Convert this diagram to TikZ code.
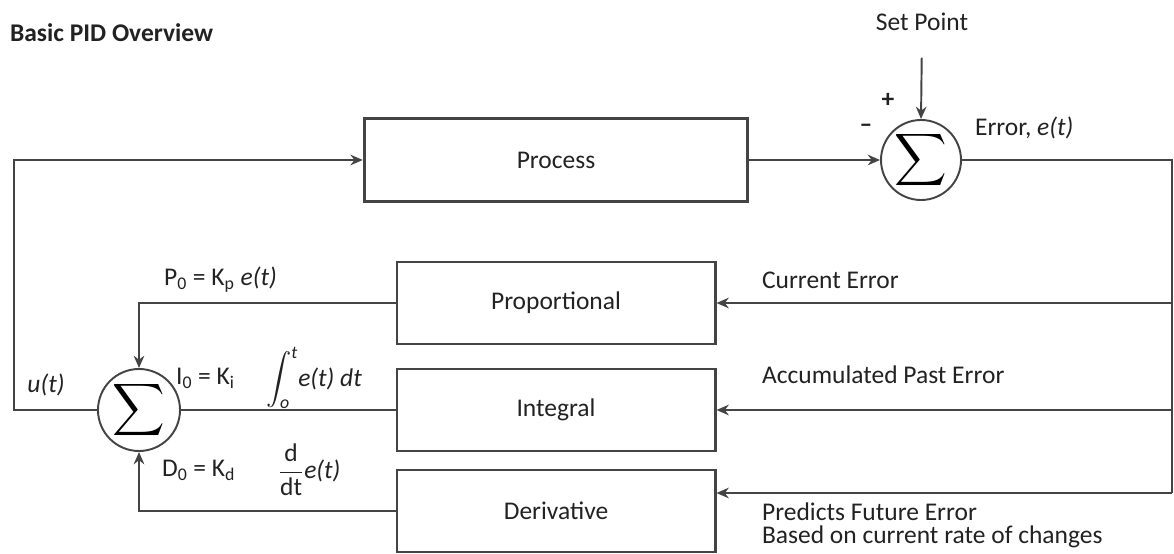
\documentclass[tikz,border=0pt]{standalone}
\usepackage{amsmath}
\usepackage{fontspec}
\setmainfont{Carlito}
\usetikzlibrary{arrows.meta, positioning, calc}
\definecolor{lineg}{HTML}{444444}
\definecolor{txtg}{HTML}{222222}

\tikzset{
  block/.style={draw=lineg, line width=1.7pt, minimum width=6.36cm, minimum height=1.64cm, font=\fontsize{14.5}{17}\selectfont, text=txtg},
  sumnode/.style={circle, draw=lineg, line width=1.1pt, minimum size=1.6cm, inner sep=0pt, font=\fontsize{21}{24}\selectfont},
  lbl/.style={font=\fontsize{14.5}{17}\selectfont, text=txtg, inner sep=1pt},
  wire/.style={draw=lineg, line width=1.1pt},
}

\begin{document}
\begin{tikzpicture}[x=0.2mm, y=-0.2mm, >={Stealth[length=7pt, width=6pt]}]
    \useasboundingbox (0,0) rectangle (1174,554);

    % Title
    \node[lbl, anchor=west, font=\fontsize{14.5}{17}\selectfont\bfseries] (title) at (8,33) {Basic PID Overview};

    % Process and error summing junction
    \node[block, minimum width=7.66cm, minimum height=1.66cm, line width=2pt] (proc) at (556,160) {Process};
    \node[sumnode] (s1) at (921,160) {$\displaystyle\sum$};
    \node[lbl] (sp) at (922,22) {Set Point};
    \node[lbl, font=\fontsize{14.5}{17}\selectfont\bfseries] (plus) at (888,100) {+};
    \node[lbl, font=\fontsize{14.5}{17}\selectfont\bfseries] (minus) at (866,128) {--};
    \node[lbl, anchor=west] (err) at (973,128) {Error, \textit{e(t)}};

    % Controller terms
    \node[block] (prop) at (556,303) {Proportional};
    \node[block] (integ) at (556,410) {Integral};
    \node[block] (deriv) at (556,511) {Derivative};
    \node[sumnode, minimum size=1.64cm] (s2) at (139,410) {$\displaystyle\sum$};

    % Error feed on the right
    \coordinate (rt) at (1172,160);
    \coordinate (rb) at (1172,493);
    \coordinate (lt) at (14,160);

    % Wires
    \draw[wire, ->, shorten <=14pt] (sp.south) -- (s1.north);
    \draw[wire, ->] (proc.east) -- (s1.west);
    \draw[wire] (s1.east) -- (rt) -- (rb);
    \draw[wire, ->] (rt |- prop.east) -- (prop.east);
    \draw[wire, ->] (rt |- integ.east) -- (integ.east);
    \draw[wire, ->] (rb) -- (rb -| deriv.east);
    \draw[wire, ->] (prop.west) -| (s2.north);
    \draw[wire] (integ.west) -- (s2.east);
    \draw[wire, ->] (deriv.west) -| (s2.south);
    \draw[wire, ->] (s2.west) -| (lt) -- (proc.west);

    % Labels on the left
    \node[lbl] (ut) at (46,385) {\textit{u(t)}};
    \node[lbl, anchor=west] (pl) at (162,280) {P\textsubscript{0} = K\textsubscript{p} \textit{e(t)}};
    \node[lbl, anchor=west] (il) at (174,378) {I\textsubscript{0} = K\textsubscript{i}};
    \node[lbl, anchor=west] (ie) at (264,378) {$\displaystyle\int_{\textit{o}}^{\textit{t}}$\textit{e(t) dt}};
    \node[lbl, anchor=west] (dl) at (160,470) {D\textsubscript{0} = K\textsubscript{d}};
    \node[lbl, anchor=west] (de) at (276,470) {$\dfrac{\text{d}}{\text{dt}}$\textit{e(t)}};

    % Labels on the right
    \node[lbl, anchor=west] (ce) at (760,280) {Current Error};
    \node[lbl, anchor=west] (ae) at (760,375) {Accumulated Past Error};
    \node[lbl, anchor=west, align=left] (fe) at (760,525) {Predicts Future Error\\[-4pt]Based on current rate of changes};
\end{tikzpicture}
\end{document}
